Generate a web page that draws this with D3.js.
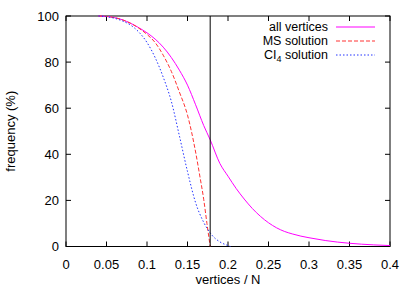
<!DOCTYPE html>
<html><head><meta charset="utf-8">
<script src="https://cdn.jsdelivr.net/npm/d3@7"></script>
<style>body{margin:0;background:#fff;} svg{display:block;} text{font-family:"Liberation Sans",Arial,sans-serif;}</style>
</head><body>
<svg id="c" width="415" height="290"></svg>
<script>
const allX = [0.04,0.05,0.06,0.07,0.08,0.09,0.1,0.11,0.12,0.13,0.14,0.15,0.16,0.17,0.178,0.19,0.2,0.21,0.22,0.23,0.24,0.25,0.26,0.27,0.28,0.29,0.3,0.32,0.35,0.38,0.4];
const allY = [100,99.8,99.3,98.3,96.8,94.9,92.7,90,86.5,82,76.5,70,61.5,52.5,46.3,36,30.5,25.2,20.6,16.5,13.1,10.3,8.1,6.5,5.4,4.5,3.8,2.6,1.4,0.7,0.4];
const msX = [0.04,0.05,0.06,0.07,0.08,0.09,0.1,0.11,0.12,0.13,0.14,0.15,0.16,0.165,0.17,0.174,0.178];
const msY = [100,99.8,99.3,98.3,96.8,94.7,92,88.5,83,76,67,57,41,31,20.5,10,0];
const ciX = [0.04,0.05,0.06,0.07,0.08,0.09,0.1,0.11,0.12,0.13,0.14,0.15,0.16,0.17,0.18,0.19,0.2,0.203];
const ciY = [100,99.7,99,97.8,96,93,88.5,82,73.5,63,48,32.5,19,10.5,5,2,0.4,0];
const xTicks = [0,0.05,0.1,0.15,0.2,0.25,0.3,0.35,0.4];
const yTicks = [0,20,40,60,80,100];
const vLineX = 0.178;
const legendLabels = ["all vertices","MS solution","CI4 solution"];

const svg = d3.select("#c");
const L=66,R=390,T=16,B=246.5;
const x = d3.scaleLinear().domain([0,0.4]).range([L,R]);
const y = d3.scaleLinear().domain([0,100]).range([B,T]);
const fs = 13;

svg.append("rect").attr("x",L).attr("y",T).attr("width",R-L).attr("height",B-T)
  .attr("fill","none").attr("stroke","#000").attr("stroke-width",1);

const tk=5;
const g = svg.append("g");
xTicks.forEach(v=>{
  g.append("line").attr("x1",x(v)).attr("x2",x(v)).attr("y1",B).attr("y2",B-tk).attr("stroke","#000");
  g.append("line").attr("x1",x(v)).attr("x2",x(v)).attr("y1",T).attr("y2",T+tk).attr("stroke","#000");
  g.append("text").attr("x",x(v)).attr("y",B+22).attr("text-anchor","middle").attr("font-size",fs).text(d3.format("")(v));
});
yTicks.forEach(v=>{
  g.append("line").attr("x1",L).attr("x2",L+tk).attr("y1",y(v)).attr("y2",y(v)).attr("stroke","#000");
  g.append("line").attr("x1",R).attr("x2",R-tk).attr("y1",y(v)).attr("y2",y(v)).attr("stroke","#000");
  g.append("text").attr("x",L-7).attr("y",y(v)+4.5).attr("text-anchor","end").attr("font-size",fs).text(v);
});

svg.append("text").attr("x",228).attr("y",284).attr("text-anchor","middle").attr("font-size",fs).text("vertices / N");
svg.append("text").attr("transform",`translate(15,${(T+B)/2}) rotate(-90)`).attr("text-anchor","middle").attr("font-size",fs).text("frequency (%)");

const line = d3.line().x(d=>x(d[0])).y(d=>y(d[1])).curve(d3.curveMonotoneX);
const series = [
  {xs:allX, ys:allY, color:"#ff00ff", dash:null},
  {xs:msX, ys:msY, color:"#ff3333", dash:"4,2"},
  {xs:ciX, ys:ciY, color:"#2233ff", dash:"1.5,2"}
];
series.forEach(s=>{
  svg.append("path").attr("d",line(s.xs.map((v,i)=>[v,s.ys[i]])))
    .attr("fill","none").attr("stroke",s.color).attr("stroke-width",1)
    .attr("stroke-dasharray",s.dash);
});

svg.append("line").attr("x1",x(vLineX)).attr("x2",x(vLineX)).attr("y1",T).attr("y2",B).attr("stroke","#000").attr("stroke-width",1);

const ly=[27,41,55];
const lfs = 12.5;
const lg = svg.append("g");
series.forEach((s,i)=>{
  lg.append("path").attr("d",`M336,${ly[i]}H375`)
    .attr("fill","none").attr("stroke",s.color).attr("stroke-width",1).attr("stroke-dasharray",s.dash);
  const t = lg.append("text").attr("x",328).attr("y",ly[i]+4.3).attr("text-anchor","end").attr("font-size",lfs);
  if(i===2){
    t.append("tspan").text("CI");
    t.append("tspan").attr("font-size",9).attr("dy",2.5).text("4");
    t.append("tspan").attr("dy",-2.5).text(" solution");
  } else t.text(legendLabels[i]);
});
</script>
</body></html>
